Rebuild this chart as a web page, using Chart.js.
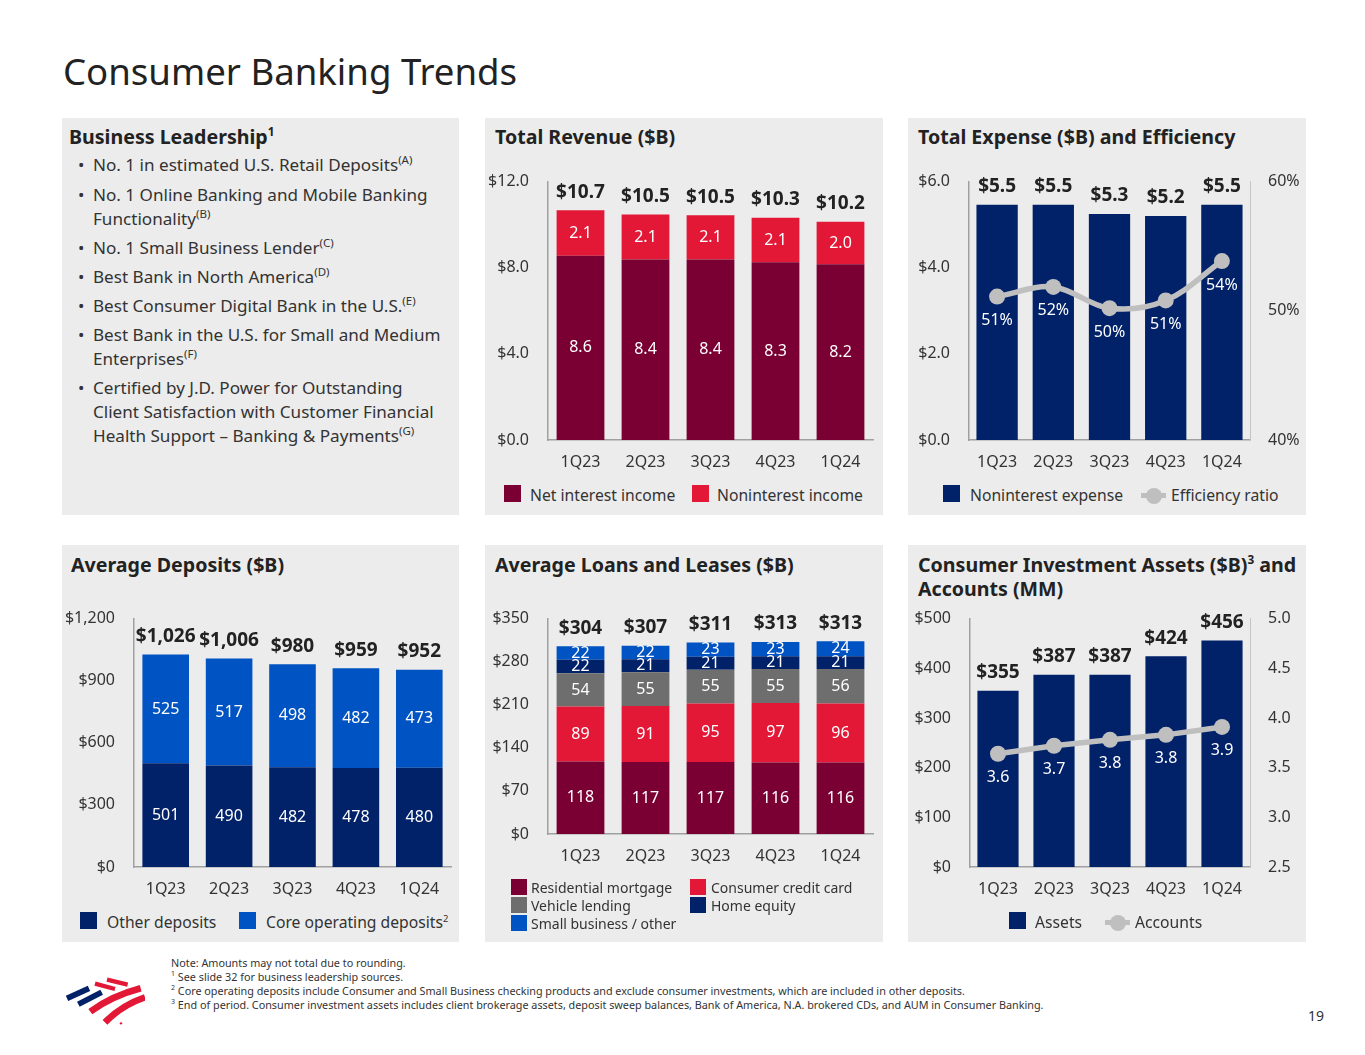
<!DOCTYPE html>
<html>
<head>
<meta charset="utf-8">
<title>Consumer Banking Trends</title>
<script src="https://cdn.jsdelivr.net/npm/chart.js@4"></script>
<style>
  html, body { margin: 0; padding: 0; background: #fff; }
  body { width: 1365px; height: 1055px; position: relative; overflow: hidden; font-family: "Noto Sans", sans-serif; color: #333; }
  .abs { position: absolute; white-space: nowrap; line-height: 1; }
  .panel { position: absolute; background: #ececec; }
  canvas { position: absolute; }
  h1 { position: absolute; left: 63px; top: 47px; margin: 0; font-size: 36.6px; font-weight: 400; line-height: 48px; color: #222; white-space: nowrap; }
  .head { position: absolute; font-size: 19.6px; font-weight: 700; line-height: 24px; color: #222; white-space: nowrap; }
  .head sup, .leg sup { font-size: 60%; line-height: 0; }
  .item { position: absolute; left: 93px; font-size: 17.1px; line-height: 24px; white-space: nowrap; }
  .item sup { font-size: 11.5px; line-height: 0; }
  .dot { position: absolute; left: 78px; font-size: 17px; line-height: 24px; }
  .swatch { position: absolute; width: 17px; height: 17px; }
  .leg { position: absolute; font-size: 15.7px; line-height: 20px; white-space: nowrap; }
  .leg.small { font-size: 14px; }
  .mark { position: absolute; width: 25px; height: 5px; background: #bfbfbf; }
  .mark::after { content: ""; position: absolute; left: 4.5px; top: -5.5px; width: 16px; height: 16px; border-radius: 50%; background: #bfbfbf; }
  .note { position: absolute; left: 171px; font-size: 10.8px; line-height: 14px; color: #333; white-space: nowrap; }
  .note sup { font-size: 7px; line-height: 0; }
</style>
</head>
<body>
<h1>Consumer Banking Trends</h1>

<div class="panel" style="left:62px;top:118px;width:397px;height:397px"></div>
<div class="panel" style="left:485px;top:118px;width:398px;height:397px"></div>
<div class="panel" style="left:908px;top:118px;width:398px;height:397px"></div>
<div class="panel" style="left:62px;top:545px;width:397px;height:397px"></div>
<div class="panel" style="left:485px;top:545px;width:398px;height:397px"></div>
<div class="panel" style="left:908px;top:545px;width:398px;height:397px"></div>

<div class="head" style="left:69px;top:125px">Business Leadership<sup>1</sup></div>
<div class="dot" style="top:153px">•</div><div class="item" style="top:153px">No. 1 in estimated U.S. Retail Deposits<sup>(A)</sup></div>
<div class="dot" style="top:183px">•</div><div class="item" style="top:183px">No. 1 Online Banking and Mobile Banking</div>
<div class="item" style="top:207px">Functionality<sup>(B)</sup></div>
<div class="dot" style="top:236px">•</div><div class="item" style="top:236px">No. 1 Small Business Lender<sup>(C)</sup></div>
<div class="dot" style="top:265px">•</div><div class="item" style="top:265px">Best Bank in North America<sup>(D)</sup></div>
<div class="dot" style="top:294px">•</div><div class="item" style="top:294px">Best Consumer Digital Bank in the U.S.<sup>(E)</sup></div>
<div class="dot" style="top:323px">•</div><div class="item" style="top:323px">Best Bank in the U.S. for Small and Medium</div>
<div class="item" style="top:347px">Enterprises<sup>(F)</sup></div>
<div class="dot" style="top:376px">•</div><div class="item" style="top:376px">Certified by J.D. Power for Outstanding</div>
<div class="item" style="top:400px">Client Satisfaction with Customer Financial</div>
<div class="item" style="top:424px">Health Support – Banking &amp; Payments<sup>(G)</sup></div>

<div class="head" style="left:495px;top:125px">Total Revenue ($B)</div>
<div class="head" style="left:918px;top:125px">Total Expense ($B) and Efficiency</div>
<div class="head" style="left:71px;top:553px">Average Deposits ($B)</div>
<div class="head" style="left:495px;top:553px">Average Loans and Leases ($B)</div>
<div class="head" style="left:918px;top:553px">Consumer Investment Assets ($B)<sup>3</sup> and<br>Accounts (MM)</div>

<canvas id="revenueChart" width="398" height="317" style="left:485px;top:153px"></canvas>
<canvas id="expenseChart" width="398" height="317" style="left:908px;top:153px"></canvas>
<canvas id="depositChart" width="397" height="320" style="left:62px;top:590px"></canvas>
<canvas id="loanChart" width="398" height="285" style="left:485px;top:590px"></canvas>
<canvas id="assetChart" width="398" height="320" style="left:908px;top:590px"></canvas>

<div class="swatch" style="left:504px;top:485px;background:#7a0033"></div><div class="leg" style="left:530px;top:485px">Net interest income</div>
<div class="swatch" style="left:692px;top:485px;background:#e31837"></div><div class="leg" style="left:717px;top:485px">Noninterest income</div>
<div class="swatch" style="left:943px;top:485px;background:#012169"></div><div class="leg" style="left:970px;top:485px">Noninterest expense</div>
<div class="mark" style="left:1141px;top:493px"></div><div class="leg" style="left:1171px;top:485px">Efficiency ratio</div>

<div class="swatch" style="left:80px;top:912px;background:#012169"></div><div class="leg" style="left:107px;top:912px">Other deposits</div>
<div class="swatch" style="left:239px;top:912px;background:#0053c2"></div><div class="leg" style="left:266px;top:912px">Core operating deposits<sup>2</sup></div>

<div class="swatch" style="left:511px;top:879px;width:16px;height:16px;background:#7a0033"></div><div class="leg small" style="left:531px;top:878px">Residential mortgage</div>
<div class="swatch" style="left:511px;top:897px;width:16px;height:16px;background:#6e6e6e"></div><div class="leg small" style="left:531px;top:896px">Vehicle lending</div>
<div class="swatch" style="left:511px;top:915px;width:16px;height:16px;background:#0053c2"></div><div class="leg small" style="left:531px;top:914px">Small business / other</div>
<div class="swatch" style="left:690px;top:879px;width:16px;height:16px;background:#e31837"></div><div class="leg small" style="left:711px;top:878px">Consumer credit card</div>
<div class="swatch" style="left:690px;top:897px;width:16px;height:16px;background:#012169"></div><div class="leg small" style="left:711px;top:896px">Home equity</div>

<div class="swatch" style="left:1009px;top:912px;background:#012169"></div><div class="leg" style="left:1035px;top:912px">Assets</div>
<div class="mark" style="left:1105px;top:920px"></div><div class="leg" style="left:1135px;top:912px">Accounts</div>

<svg style="position:absolute;left:55px;top:970px" width="90" height="65" viewBox="0 0 270 195" fill="none">
  <path d="M36 85 L102 55 M70 103 L140 67" stroke="#012169" stroke-width="17"/>
  <path d="M120 41 L180 57 M156 29 L218 44" stroke="#e31837" stroke-width="13"/>
  <path d="M106 125 Q170 78 257 55 M150 157 Q200 106 270 82" stroke="#e31837" stroke-width="20"/>
  <circle cx="198" cy="160" r="3.5" fill="#e31837"/>
</svg>

<div class="note" style="top:956px">Note: Amounts may not total due to rounding.</div>
<div class="note" style="top:970px"><sup>1</sup> See slide 32 for business leadership sources.</div>
<div class="note" style="top:984px"><sup>2</sup> Core operating deposits include Consumer and Small Business checking products and exclude consumer investments, which are included in other deposits.</div>
<div class="note" style="top:998px"><sup>3</sup> End of period. Consumer investment assets includes client brokerage assets, deposit sweep balances, Bank of America, N.A. brokered CDs, and AUM in Consumer Banking.</div>
<div class="abs" style="left:1308px;top:1009px;font-size:14px">19</div>

<script>
const quarters = ['1Q23', '2Q23', '3Q23', '4Q23', '1Q24'];

// Total revenue, $B
const netInterestIncome = [8.56, 8.38, 8.38, 8.26, 8.16];
const noninterestIncome = [2.11, 2.09, 2.06, 2.06, 1.98];
const revenueTotals = ['$10.7', '$10.5', '$10.5', '$10.3', '$10.2'];

// Total expense, $B, and efficiency, %
const noninterestExpense = [5.46, 5.46, 5.25, 5.2, 5.46];
const expenseTotals = ['$5.5', '$5.5', '$5.3', '$5.2', '$5.5'];
const efficiencyRatio = [51.1, 51.85, 50.2, 50.8, 53.85];
const efficiencyLabels = ['51%', '52%', '50%', '51%', '54%'];

// Average deposits, $B
const otherDeposits = [501, 490, 482, 478, 480];
const coreDeposits = [525, 517, 498, 482, 473];
const depositTotals = ['$1,026', '$1,006', '$980', '$959', '$952'];

// Average loans and leases, $B
const residentialMortgage = [118, 117, 117, 116, 116];
const creditCard = [89, 91, 95, 97, 96];
const vehicleLending = [54, 55, 55, 55, 56];
const homeEquity = [22, 21, 21, 21, 21];
const smallBusiness = [22, 22, 23, 23, 24];
const loanTotals = ['$304', '$307', '$311', '$313', '$313'];

// Consumer investment assets, $B, and accounts, MM
const investmentAssets = [355, 387, 387, 424, 456];
const assetTotals = ['$355', '$387', '$387', '$424', '$456'];
const investmentAccounts = [3.64, 3.72, 3.78, 3.83, 3.91];
const accountLabels = ['3.6', '3.7', '3.8', '3.8', '3.9'];

const MAROON = '#7a0033', RED = '#e31837', NAVY = '#012169', BLUE = '#0053c2', GRAY = '#6e6e6e', LINE_GRAY = '#bfbfbf';
const AXIS_COLOR = '#a0a0a0', TEXT_COLOR = '#333333';

Chart.defaults.font.family = '"Noto Sans", sans-serif';
Chart.defaults.font.size = 16;
Chart.defaults.color = TEXT_COLOR;

// Writes the numbers on the bars, the bold totals and the labels under the line points
function labelPlugin(totals, digits, lineLabels) {
  return {
    id: 'valueLabels',
    afterDatasetsDraw(chart) {
      const ctx = chart.ctx;
      ctx.save();
      ctx.textAlign = 'center';
      ctx.textBaseline = 'middle';
      let topBars = null;
      chart.data.datasets.forEach((ds, d) => {
        const meta = chart.getDatasetMeta(d);
        if (ds.type === 'line') {
          ctx.font = '16px "Noto Sans"';
          ctx.fillStyle = '#ffffff';
          meta.data.forEach((pt, i) => ctx.fillText(lineLabels[i], pt.x, pt.y + 24));
          return;
        }
        topBars = meta.data;
        if (digits === null) return;
        ctx.font = '16px "Noto Sans"';
        ctx.fillStyle = '#ffffff';
        meta.data.forEach((bar, i) => {
          ctx.fillText(ds.data[i].toFixed(digits), bar.x, (bar.y + bar.base) / 2);
        });
      });
      ctx.font = 'bold 19px "Noto Sans"';
      ctx.fillStyle = '#222222';
      topBars.forEach((bar, i) => ctx.fillText(totals[i], bar.x, bar.y - 18));
      ctx.restore();
    }
  };
}

function barSet(data, color) {
  return { type: 'bar', data, backgroundColor: color, stack: 's', order: 1, barPercentage: 0.735, categoryPercentage: 1 };
}

function lineSet(data, tension) {
  return {
    type: 'line', data, yAxisID: 'y1', order: 0, tension,
    borderColor: LINE_GRAY, borderWidth: 5.5,
    pointRadius: 8, pointBackgroundColor: LINE_GRAY, pointBorderWidth: 0
  };
}

function leftAxis(max, step, format, plotLeft) {
  return {
    position: 'left', stacked: true, min: 0, max,
    grid: { display: false, drawTicks: false },
    border: { color: AXIS_COLOR, width: 1.5 },
    ticks: { stepSize: step, padding: 19, callback: format, font: { size: 16 } },
    afterFit: s => { s.width = plotLeft; }
  };
}

function rightAxis(min, max, step, format, plotRight) {
  return {
    position: 'right', min, max,
    grid: { display: false, drawTicks: false },
    border: { color: '#c4c4c4', width: 1 },
    ticks: { stepSize: step, padding: 18, callback: format, font: { size: 16 } },
    afterFit: s => { s.width = plotRight; }
  };
}

function makeChart(id, datasets, yScale, y1Scale, plotTop, xHeight, rightPad, totals, digits, lineLabels) {
  const scales = {
    x: {
      stacked: true,
      grid: { display: false, drawTicks: false },
      border: { color: AXIS_COLOR, width: 1.5 },
      ticks: { padding: 13, maxRotation: 0, autoSkip: false, font: { size: 16 } },
      afterFit: s => { s.height = xHeight; }
    },
    y: yScale
  };
  if (y1Scale) scales.y1 = y1Scale;
  return new Chart(document.getElementById(id), {
    data: { labels: quarters, datasets },
    plugins: [labelPlugin(totals, digits, lineLabels)],
    options: {
      responsive: false,
      animation: false,
      layout: { autoPadding: false, padding: { top: plotTop, right: rightPad, left: 0, bottom: 0 } },
      plugins: { legend: { display: false }, tooltip: { enabled: false } },
      scales
    }
  });
}

const money1 = v => '$' + v.toFixed(1);
const money0 = v => '$' + v.toLocaleString('en-US');

makeChart('revenueChart',
  [barSet(netInterestIncome, MAROON), barSet(noninterestIncome, RED)],
  leftAxis(12, 4, money1, 63), null, 27, 30, 10, revenueTotals, 1);

makeChart('expenseChart',
  [lineSet(efficiencyRatio, 0.35), barSet(noninterestExpense, NAVY)],
  leftAxis(6, 2, money1, 61),
  rightAxis(40, 60, 10, v => v + '%', 56), 27, 30, 0, expenseTotals, null, efficiencyLabels);

makeChart('depositChart',
  [barSet(otherDeposits, NAVY), barSet(coreDeposits, BLUE)],
  leftAxis(1200, 300, money0, 72), null, 27, 43, 8, depositTotals, 0);

makeChart('loanChart',
  [barSet(residentialMortgage, MAROON), barSet(creditCard, RED), barSet(vehicleLending, GRAY), barSet(homeEquity, NAVY), barSet(smallBusiness, BLUE)],
  leftAxis(350, 70, money0, 63), null, 27, 41, 10, loanTotals, 0);

makeChart('assetChart',
  [lineSet(investmentAccounts, 0), barSet(investmentAssets, NAVY)],
  leftAxis(500, 100, money0, 62),
  rightAxis(2.5, 5, 0.5, v => v.toFixed(1), 56), 27, 43, 0, assetTotals, null, accountLabels);
</script>
</body>
</html>
